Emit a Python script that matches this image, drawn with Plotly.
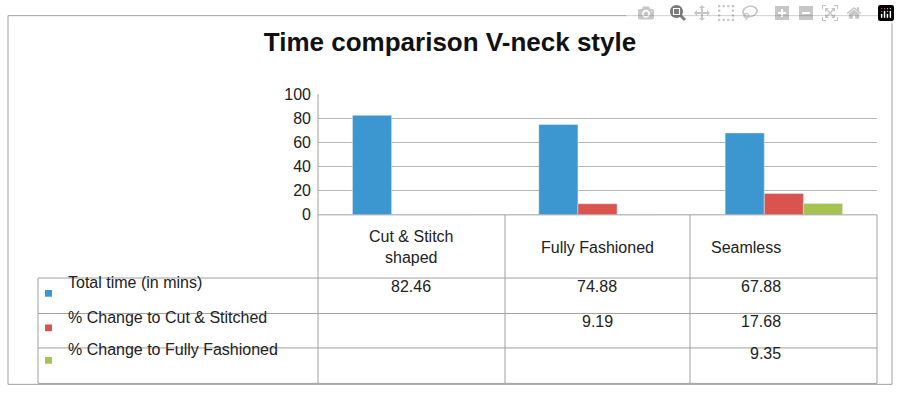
import plotly.graph_objects as go

categories = ["Cut & Stitch<br>shaped", "Fully Fashioned", "Seamless"]
total_time = [82.46, 74.88, 67.88]
chg_cut = [None, 9.19, 17.68]
chg_ff = [None, None, 9.35]
series_names = ["Total time (in mins)", "% Change to Cut & Stitched", "% Change to Fully Fashioned"]
colors = ["#3c96d0", "#d9534f", "#a6c34f"]

W, H = 900, 401
def px(x): return x / W
def py(y): return 1 - y / H

fig = go.Figure()
for name, vals, c in zip(series_names, [total_time, chg_cut, chg_ff], colors):
    fig.add_bar(x=[0, 1, 2], y=[v if v is not None else 0 for v in vals],
                name=name, marker_color=c, showlegend=False)

shapes = []
def line(x0, y0, x1, y1, color="#a0a0a0"):
    shapes.append(dict(type="line", xref="paper", yref="paper",
                       x0=px(x0), y0=py(y0), x1=px(x1), y1=py(y1),
                       line=dict(color=color, width=1)))
shapes.append(dict(type="rect", xref="paper", yref="paper", x0=px(8), y0=py(393), x1=px(892), y1=py(8),
                   line=dict(color="#a0a0a0", width=1)))
cols = [318, 505, 690, 877]
line(318, 90, 318, 392)
line(318, 216, 877, 216)
for x in cols[1:]:
    line(x, 216, x, 392)
for y in [282, 319, 355, 392]:
    line(38, y, 877, y)
line(38, 282, 38, 392)

ann = []
centers = [411, 597, 783]
for cx, cat in zip(centers, categories):
    ann.append(dict(x=px(cx), y=py(250), xref="paper", yref="paper", text=cat, showarrow=False,
                    font=dict(size=16, color="#222")))
rows_y = [298, 334, 368]
for ry, name, c, vals in zip(rows_y, series_names, colors, [total_time, chg_cut, chg_ff]):
    shapes.append(dict(type="rect", xref="paper", yref="paper", x0=px(45), x1=px(52),
                       y0=py(ry + 3.5), y1=py(ry - 3.5), fillcolor=c, line=dict(width=0)))
    ann.append(dict(x=px(66), y=py(ry), xref="paper", yref="paper", text=name, showarrow=False,
                    xanchor="left", font=dict(size=16, color="#222")))
    for cx, v in zip(centers, vals):
        if v is not None:
            ann.append(dict(x=px(cx), y=py(ry + 4), xref="paper", yref="paper", text=f"{v:.2f}",
                            showarrow=False, font=dict(size=16, color="#222")))

fig.update_layout(
    width=W, height=H, margin=dict(l=0, r=0, t=0, b=0),
    paper_bgcolor="white", plot_bgcolor="white",
    font=dict(family="Liberation Sans, Arial", color="#222"),
    title=dict(text="<b>Time comparison V-neck style</b>", x=0.5, xanchor="center",
               y=py(42), yanchor="middle", font=dict(size=26, color="#111")),
    barmode="group", bargap=0.37, bargroupgap=0,
    xaxis=dict(domain=[px(318), px(877)], range=[-0.5, 2.5], showticklabels=False,
               showgrid=False, zeroline=False),
    yaxis=dict(domain=[py(216), py(90)], range=[0, 100], dtick=20, showgrid=True,
               gridcolor="#b8b8b8", zeroline=False, ticks="", tickfont=dict(size=16, color="#222"),
               ticklabelstandoff=6),
    shapes=shapes, annotations=ann,
)
fig.write_html("out.html")
with open("out.html", encoding="utf-8") as f:
    html = f.read()
html = html.replace("<head>", "<head><style>html,body{margin:0;padding:0;overflow:hidden}</style>", 1)
with open("out.html", "w", encoding="utf-8") as f:
    f.write(html)
